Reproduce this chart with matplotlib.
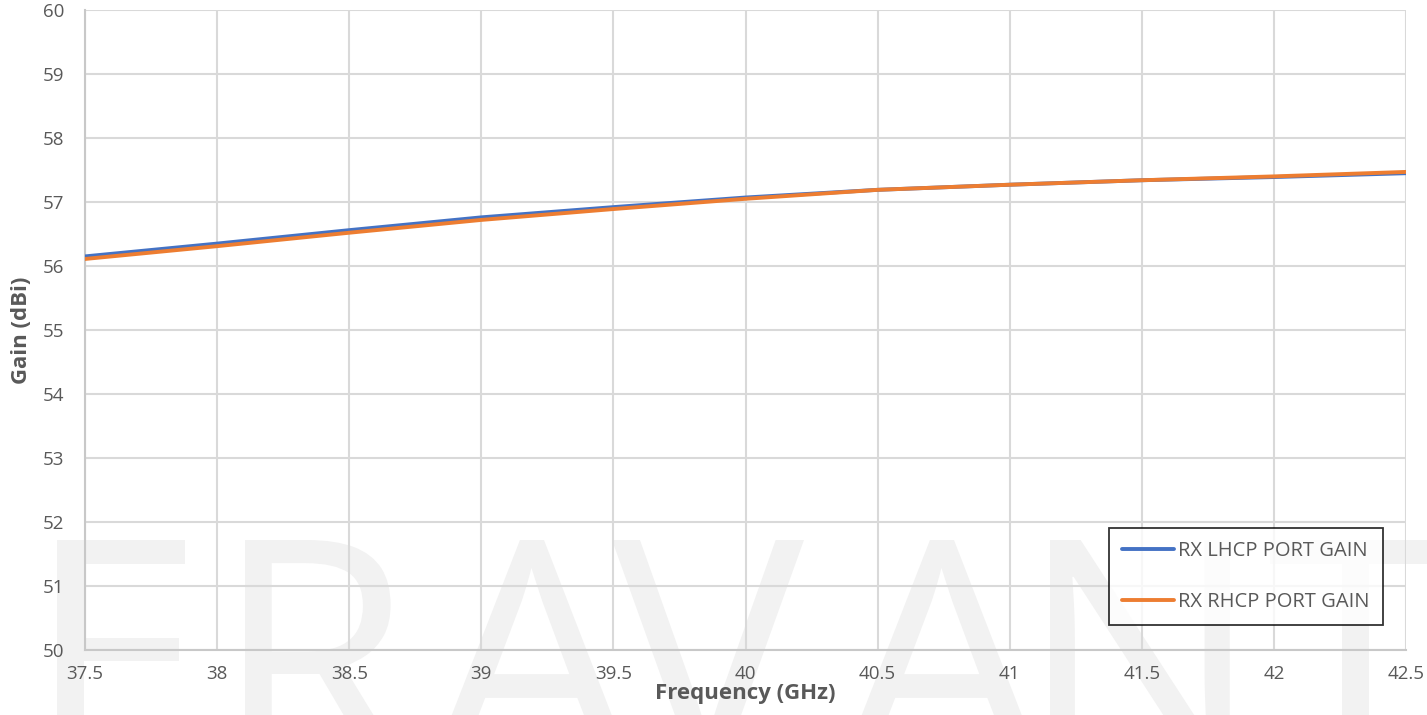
import matplotlib
matplotlib.use("Agg")
import matplotlib.pyplot as plt
from matplotlib.textpath import TextPath
from matplotlib.patches import PathPatch
from matplotlib.font_manager import FontProperties
from matplotlib.transforms import Affine2D, IdentityTransform

freq_ghz = [37.5, 38.0, 38.5, 39.0, 39.5, 40.0, 40.5, 41.0, 41.5, 42.0, 42.5]
lhcp_gain = [56.15, 56.35, 56.56, 56.76, 56.92, 57.07, 57.19, 57.27, 57.34, 57.39, 57.45]
rhcp_gain = [56.11, 56.31, 56.52, 56.72, 56.89, 57.05, 57.19, 57.27, 57.34, 57.40, 57.47]
series_names = ["RX LHCP PORT GAIN", "RX RHCP PORT GAIN"]
x_ticks = [37.5, 38, 38.5, 39, 39.5, 40, 40.5, 41, 41.5, 42, 42.5]
x_tick_labels = ["37.5", "38", "38.5", "39", "39.5", "40", "40.5", "41", "41.5", "42", "42.5"]
y_ticks = list(range(50, 61))
watermark_letters = list("ERAVANT")

W, H = 1427, 715
fig = plt.figure(figsize=(W / 100, H / 100), dpi=100)
fig.patch.set_facecolor("white")

# watermark drawn as shapes behind the chart
wm_lefts = [57, 245, 430, 612, 840, 1050, 1270]
wm_prop = FontProperties(family="Open Sans")
em = 322
top_disp = H - 540
for ch, left in zip(watermark_letters, wm_lefts):
    tp = TextPath((0, 0), ch, size=em, prop=wm_prop)
    ext = tp.get_extents()
    tr = Affine2D().translate(left - ext.x0, top_disp - ext.y1)
    path = tr.transform_path(tp)
    patch = PathPatch(path, facecolor="#f2f2f2", edgecolor="none",
                      transform=IdentityTransform(), zorder=0)
    fig.add_artist(patch)

ax = fig.add_axes([85 / W, 1 - 650 / H, (1406 - 85) / W, 640 / H])
ax.set_facecolor("none")
ax.set_zorder(1)

ax.plot(freq_ghz, lhcp_gain, color="#4472C4", lw=2.8, label=series_names[0], solid_capstyle="round", zorder=3)
ax.plot(freq_ghz, rhcp_gain, color="#ED7D31", lw=2.8, label=series_names[1], solid_capstyle="round", zorder=4)

ax.set_xlim(37.5, 42.5)
ax.set_ylim(50, 60)
ax.set_xticks(x_ticks)
ax.set_xticklabels(x_tick_labels)
ax.set_yticks(y_ticks)
ax.grid(True, color="#d9d9d9", lw=1.5)
ax.set_axisbelow(True)
for side in ["top", "right"]:
    ax.spines[side].set_visible(False)
for side in ["left", "bottom"]:
    ax.spines[side].set_color("#c8c8c8")
    ax.spines[side].set_linewidth(1.5)
ax.tick_params(length=0, labelsize=13.5, labelcolor="#595959")
for lbl in ax.get_yticklabels() + ax.get_xticklabels():
    lbl.set_fontfamily("Open Sans")
ax.tick_params(axis="y", pad=15)
ax.tick_params(axis="x", pad=11)

ax.set_xlabel("Frequency (GHz)", fontsize=16, fontweight="bold", color="#595959",
              family="Open Sans", labelpad=0)
ax.set_ylabel("Gain (dBi)", fontsize=16, fontweight="bold", color="#595959",
              family="Open Sans", labelpad=8)

leg = ax.legend(loc="lower right", bbox_to_anchor=((1383 - 85) / (1406 - 85), (650 - 625) / 640),
                frameon=True, fancybox=False, labelspacing=1.55,
                handlelength=2.6, handletextpad=0.2, borderpad=0.65, borderaxespad=0,
                prop={"family": "Open Sans", "size": 14.5})
leg.get_frame().set_edgecolor("black")
leg.get_frame().set_linewidth(1.3)
for t in leg.get_texts():
    t.set_color("#595959")

fig.savefig("out.png", dpi=100)
